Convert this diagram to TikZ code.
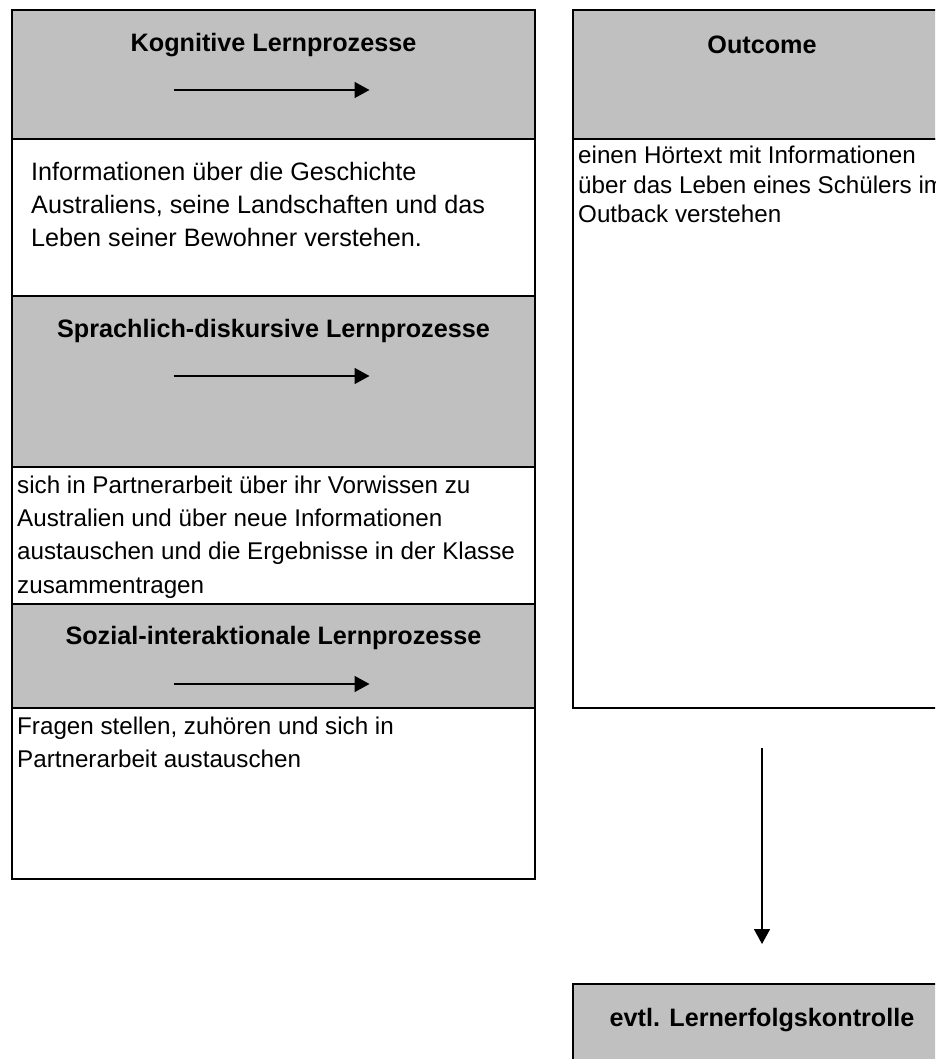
\documentclass[tikz,border=0pt]{standalone}
\usepackage{fontspec}
\setmainfont{Liberation Sans}
\usepackage{tikz}
\usetikzlibrary{positioning, arrows.meta}
\definecolor{hdgray}{RGB}{192,192,192}

\begin{document}
\begin{tikzpicture}[
    x=1pt, y=-1pt,
    sec/.style={draw, line width=1.6pt, inner sep=0pt, outer sep=0pt,
                minimum width=523pt},
    hdr/.style={sec, fill=hdgray},
    txt/.style={sec, fill=white},
    ttl/.style={font=\fontsize{25.2pt}{30pt}\selectfont\bfseries},
    bdy/.style={anchor=base west, align=left, inner sep=0pt,
                font=\fontsize{24.2pt}{33.3pt}\selectfont},
    arw/.style={-{Triangle[length=15pt, width=16pt]}, line width=1.6pt},
]
\useasboundingbox (0,0) rectangle (935,1059);
\clip (0,0) rectangle (935,1059);

% left column
\node[hdr, minimum height=129pt, anchor=north west] (hd1) at (12,10) {};
\node[txt, minimum height=157pt, below=0pt of hd1] (tx1) {};
\node[hdr, minimum height=171pt, below=0pt of tx1] (hd2) {};
\node[txt, minimum height=137pt, below=0pt of hd2] (tx2) {};
\node[hdr, minimum height=104pt, below=0pt of tx2] (hd3) {};
\node[txt, minimum height=171pt, below=0pt of hd3] (tx3) {};

% right column
\node[hdr, minimum width=378pt, minimum height=129pt, anchor=north west] (hdO) at (573,10) {};
\node[txt, minimum width=378pt, minimum height=569pt, below=0pt of hdO] (txO) {};
\node[hdr, minimum width=378pt, minimum height=100pt, anchor=north west] (ctrl) at (573,984) {};

% titles
\node[ttl] (t1) at ([yshift=-35pt]hd1.north) {Kognitive Lernprozesse};
\node[ttl] (t2) at ([yshift=-35pt]hd2.north) {Sprachlich-diskursive Lernprozesse};
\node[ttl] (t3) at ([yshift=-34pt]hd3.north) {Sozial-interaktionale Lernprozesse};
\node[ttl] (tO) at ([yshift=-35pt]hdO.north) {Outcome};
\node[ttl] (tC) at ([yshift=-36pt]ctrl.north) {evtl. Lernerfolgskontrolle};

% body texts (base = last line)
\node[bdy, font=\fontsize{25.2pt}{33.3pt}\selectfont] (b1) at ([xshift=19pt, yshift=-107.6pt]tx1.north west)
    {Informationen über die Geschichte\\Australiens, seine Landschaften und das\\Leben seiner Bewohner verstehen.};
\node[bdy] (b2) at ([xshift=5pt, yshift=-126pt]tx2.north west)
    {sich in Partnerarbeit über ihr Vorwissen zu\\Australien und über neue Informationen\\austauschen und die Ergebnisse in der Klasse\\zusammentragen};
\node[bdy] (b3) at ([xshift=5pt, yshift=-59.3pt]tx3.north west)
    {Fragen stellen, zuhören und sich in\\Partnerarbeit austauschen};
\node[bdy, font=\fontsize{24.2pt}{29.5pt}\selectfont] (bO) at ([xshift=5pt, yshift=-84pt]txO.north west)
    {einen Hörtext mit Informationen\\über das Leben eines Schülers im\\Outback verstehen};

% arrows
\foreach \h in {hd1, hd2, hd3} {
    \coordinate (\h-a) at ([xshift=-100pt, yshift=-80pt]\h.north);
    \coordinate (\h-b) at ([xshift=96pt, yshift=-80pt]\h.north);
    \draw[arw] (\h-a) -- (\h-b);
}
\draw[arw, shorten <=40pt, shorten >=40pt] (txO.south) -- (ctrl.north);
\end{tikzpicture}
\end{document}
